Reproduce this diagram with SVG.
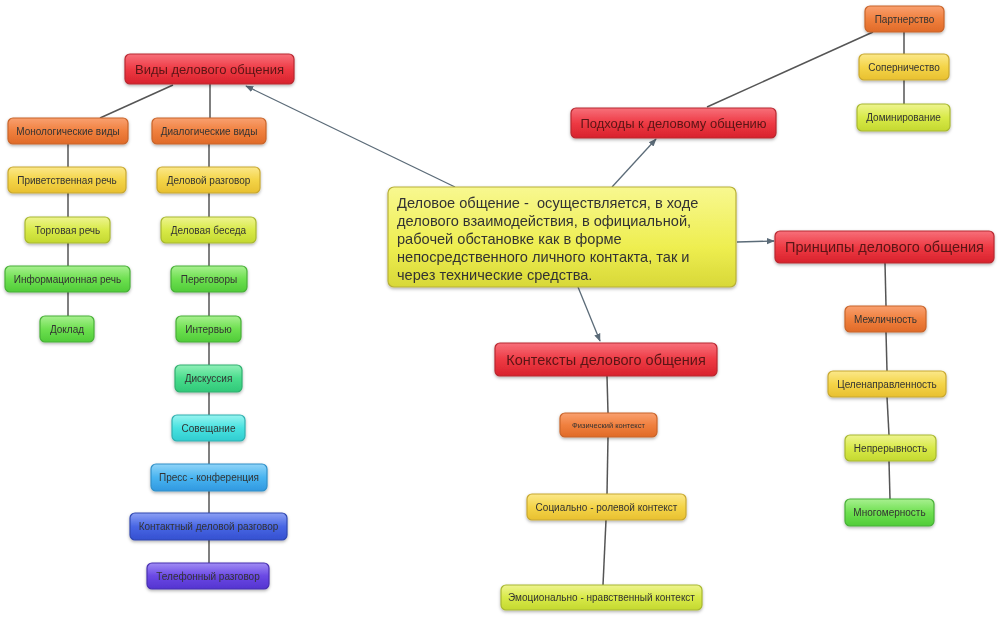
<svg xmlns="http://www.w3.org/2000/svg" width="1000" height="617" viewBox="0 0 1000 617">
<style>
  .n rect{stroke-width:1.2}
  .t{font-family:"Liberation Sans",Arial,sans-serif;font-size:10px;fill:#333;text-anchor:middle;dominant-baseline:central}
  .tr{font-family:"Liberation Sans",Arial,sans-serif;font-size:14px;fill:#5a1616;text-anchor:middle;dominant-baseline:central}
  .tc{font-family:"Liberation Sans",Arial,sans-serif;font-size:14.6px;fill:#333}
  .c line{stroke:#555;stroke-width:1.5;fill:none}
  .c .a{stroke:#5b6b78;stroke-width:1.3}
  .red{fill:url(#gRed);stroke:#b82830}
  .org{fill:url(#gOrg);stroke:#c8642a}
  .yel{fill:url(#gYel);stroke:#c8a830}
  .ylg{fill:url(#gYlg);stroke:#a8b830}
  .grn{fill:url(#gGrn);stroke:#48b038}
  .tgr{fill:url(#gTgr);stroke:#30b070}
  .cyn{fill:url(#gCyn);stroke:#30b0b0}
  .lbl{fill:url(#gLbl);stroke:#3090c8}
  .blu{fill:url(#gBlu);stroke:#3048b0}
  .pur{fill:url(#gPur);stroke:#4830b0}
  .cen{fill:url(#gCen);stroke:#b8b038}
</style>
<defs>
  <linearGradient id="gRed" x1="0" y1="0" x2="0" y2="1"><stop offset="0" stop-color="#f7707a"/><stop offset="0.5" stop-color="#ee3a44"/><stop offset="1" stop-color="#d8222c"/></linearGradient>
  <linearGradient id="gOrg" x1="0" y1="0" x2="0" y2="1"><stop offset="0" stop-color="#f9a070"/><stop offset="0.5" stop-color="#f0803e"/><stop offset="1" stop-color="#e06a28"/></linearGradient>
  <linearGradient id="gYel" x1="0" y1="0" x2="0" y2="1"><stop offset="0" stop-color="#fbe88a"/><stop offset="0.5" stop-color="#f4d448"/><stop offset="1" stop-color="#e8c030"/></linearGradient>
  <linearGradient id="gYlg" x1="0" y1="0" x2="0" y2="1"><stop offset="0" stop-color="#eef490"/><stop offset="0.5" stop-color="#d8ea48"/><stop offset="1" stop-color="#c4d830"/></linearGradient>
  <linearGradient id="gGrn" x1="0" y1="0" x2="0" y2="1"><stop offset="0" stop-color="#a8f090"/><stop offset="0.5" stop-color="#6ee050"/><stop offset="1" stop-color="#50cc38"/></linearGradient>
  <linearGradient id="gTgr" x1="0" y1="0" x2="0" y2="1"><stop offset="0" stop-color="#90f0b8"/><stop offset="0.5" stop-color="#48dc8c"/><stop offset="1" stop-color="#30c878"/></linearGradient>
  <linearGradient id="gCyn" x1="0" y1="0" x2="0" y2="1"><stop offset="0" stop-color="#98f4f0"/><stop offset="0.5" stop-color="#48e2e0"/><stop offset="1" stop-color="#30ccd0"/></linearGradient>
  <linearGradient id="gLbl" x1="0" y1="0" x2="0" y2="1"><stop offset="0" stop-color="#90d4f8"/><stop offset="0.5" stop-color="#48b4f0"/><stop offset="1" stop-color="#3098e0"/></linearGradient>
  <linearGradient id="gBlu" x1="0" y1="0" x2="0" y2="1"><stop offset="0" stop-color="#8ca0f4"/><stop offset="0.5" stop-color="#4866e4"/><stop offset="1" stop-color="#3450d0"/></linearGradient>
  <linearGradient id="gPur" x1="0" y1="0" x2="0" y2="1"><stop offset="0" stop-color="#a08cf4"/><stop offset="0.5" stop-color="#6a48e4"/><stop offset="1" stop-color="#5434d0"/></linearGradient>
  <linearGradient id="gCen" x1="0" y1="0" x2="0" y2="1"><stop offset="0" stop-color="#f8f890"/><stop offset="0.6" stop-color="#eeee50"/><stop offset="1" stop-color="#d8d838"/></linearGradient>
  <filter id="sh" x="-10%" y="-20%" width="120%" height="150%"><feDropShadow dx="0" dy="1.5" stdDeviation="1.5" flood-color="#000" flood-opacity="0.3"/></filter>
  <marker id="arr" viewBox="0 0 10 10" refX="9" refY="5" markerWidth="8" markerHeight="8" orient="auto-start-reverse" markerUnits="userSpaceOnUse"><path d="M0,1 L10,5 L0,9 z" fill="#5b6b78"/></marker>
</defs>
<rect width="1000" height="617" fill="#ffffff"/>

<g id="connectors" class="c">
  <line x1="173" y1="85" x2="100" y2="118"/>
  <line x1="210" y1="84" x2="210" y2="118"/>
  <line x1="68" y1="144" x2="68" y2="316"/>
  <line x1="209" y1="144" x2="209" y2="563"/>
  <line class="a" x1="455" y1="187" x2="246" y2="86" marker-end="url(#arr)"/>
  <line class="a" x1="612" y1="187" x2="656" y2="139" marker-end="url(#arr)"/>
  <line class="a" x1="737" y1="242" x2="774" y2="241" marker-end="url(#arr)"/>
  <line class="a" x1="578" y1="287" x2="600" y2="341" marker-end="url(#arr)"/>
  <line x1="707" y1="107" x2="873" y2="32"/>
  <line x1="904" y1="32" x2="904" y2="104"/>
  <line x1="885" y1="263" x2="886" y2="306"/>
  <line x1="886" y1="332" x2="887" y2="371"/>
  <line x1="887" y1="397" x2="889" y2="435"/>
  <line x1="889" y1="461" x2="890" y2="499"/>
  <line x1="607" y1="376" x2="608" y2="413"/>
  <line x1="608" y1="437" x2="607" y2="494"/>
  <line x1="606" y1="520" x2="603" y2="585"/>
</g>

<g id="center" class="n" filter="url(#sh)">
  <rect class="cen" x="388" y="187" width="348" height="100" rx="6"/>
  <text class="tc" x="397" y="208" xml:space="preserve">Деловое общение -  осуществляется, в ходе</text>
  <text class="tc" x="397" y="226">делового взаимодействия, в официальной,</text>
  <text class="tc" x="397" y="244">рабочей обстановке как в форме</text>
  <text class="tc" x="397" y="262">непосредственного личного контакта, так и</text>
  <text class="tc" x="397" y="280">через технические средства.</text>
</g>

<g id="vidy" class="n" filter="url(#sh)"><rect class="red" x="125" y="54" width="169" height="30" rx="5"/><text class="tr" x="209.5" y="69" style="font-size:13px">Виды делового общения</text></g>
<g id="monolog" class="n" filter="url(#sh)"><rect class="org" x="8" y="118" width="120" height="26" rx="5"/><text class="t" x="68" y="131">Монологические виды</text></g>
<g id="dialog" class="n" filter="url(#sh)"><rect class="org" x="152" y="118" width="114" height="26" rx="5"/><text class="t" x="209" y="131">Диалогические виды</text></g>
<g id="privet" class="n" filter="url(#sh)"><rect class="yel" x="8" y="167" width="118" height="26" rx="5"/><text class="t" x="67" y="180">Приветственная речь</text></g>
<g id="razgovor" class="n" filter="url(#sh)"><rect class="yel" x="157" y="167" width="103" height="26" rx="5"/><text class="t" x="208.5" y="180">Деловой разговор</text></g>
<g id="torg" class="n" filter="url(#sh)"><rect class="ylg" x="25" y="217" width="85" height="26" rx="5"/><text class="t" x="67.5" y="230">Торговая речь</text></g>
<g id="beseda" class="n" filter="url(#sh)"><rect class="ylg" x="161" y="217" width="95" height="26" rx="5"/><text class="t" x="208.5" y="230">Деловая беседа</text></g>
<g id="inform" class="n" filter="url(#sh)"><rect class="grn" x="5" y="266" width="125" height="26" rx="5"/><text class="t" x="67.5" y="279">Информационная речь</text></g>
<g id="peregovory" class="n" filter="url(#sh)"><rect class="grn" x="171" y="266" width="76" height="26" rx="5"/><text class="t" x="209" y="279">Переговоры</text></g>
<g id="doklad" class="n" filter="url(#sh)"><rect class="grn" x="40" y="316" width="54" height="26" rx="5"/><text class="t" x="67" y="329">Доклад</text></g>
<g id="intervyu" class="n" filter="url(#sh)"><rect class="grn" x="176" y="316" width="65" height="26" rx="5"/><text class="t" x="208.5" y="329">Интервью</text></g>
<g id="diskussiya" class="n" filter="url(#sh)"><rect class="tgr" x="175" y="365" width="67" height="27" rx="5"/><text class="t" x="208.5" y="378.5">Дискуссия</text></g>
<g id="soveshchanie" class="n" filter="url(#sh)"><rect class="cyn" x="172" y="415" width="73" height="26" rx="5"/><text class="t" x="208.5" y="428">Совещание</text></g>
<g id="press" class="n" filter="url(#sh)"><rect class="lbl" x="151" y="464" width="116" height="27" rx="5"/><text class="t" x="209" y="477.5">Пресс - конференция</text></g>
<g id="kontakt" class="n" filter="url(#sh)"><rect class="blu" x="130" y="513" width="157" height="27" rx="5"/><text class="t" x="208.5" y="526.5">Контактный деловой разговор</text></g>
<g id="telefon" class="n" filter="url(#sh)"><rect class="pur" x="147" y="563" width="122" height="26" rx="5"/><text class="t" x="208" y="576">Телефонный разговор</text></g>

<g id="podhody" class="n" filter="url(#sh)"><rect class="red" x="571" y="108" width="205" height="30" rx="5"/><text class="tr" x="673.5" y="123" style="font-size:13px">Подходы к деловому общению</text></g>
<g id="partnerstvo" class="n" filter="url(#sh)"><rect class="org" x="865" y="6" width="79" height="26" rx="5"/><text class="t" x="904.5" y="19">Партнерство</text></g>
<g id="sopernichestvo" class="n" filter="url(#sh)"><rect class="yel" x="859" y="54" width="90" height="26" rx="5"/><text class="t" x="904" y="67">Соперничество</text></g>
<g id="dominirovanie" class="n" filter="url(#sh)"><rect class="ylg" x="857" y="104" width="93" height="27" rx="5"/><text class="t" x="903.5" y="117.5">Доминирование</text></g>

<g id="principy" class="n" filter="url(#sh)"><rect class="red" x="775" y="231" width="219" height="32" rx="5"/><text class="tr" x="884.5" y="247" style="font-size:14.5px">Принципы делового общения</text></g>
<g id="mezhlichnost" class="n" filter="url(#sh)"><rect class="org" x="845" y="306" width="81" height="26" rx="5"/><text class="t" x="885.5" y="319">Межличность</text></g>
<g id="celenapr" class="n" filter="url(#sh)"><rect class="yel" x="828" y="371" width="118" height="26" rx="5"/><text class="t" x="887" y="384">Целенаправленность</text></g>
<g id="nepreryvnost" class="n" filter="url(#sh)"><rect class="ylg" x="845" y="435" width="91" height="26" rx="5"/><text class="t" x="890.5" y="448">Непрерывность</text></g>
<g id="mnogomernost" class="n" filter="url(#sh)"><rect class="grn" x="845" y="499" width="89" height="27" rx="5"/><text class="t" x="889.5" y="512.5">Многомерность</text></g>

<g id="konteksty" class="n" filter="url(#sh)"><rect class="red" x="495" y="343" width="222" height="33" rx="5"/><text class="tr" x="606" y="359.5" style="font-size:14.5px">Контексты делового общения</text></g>
<g id="fizich" class="n" filter="url(#sh)"><rect class="org" x="560" y="413" width="97" height="24" rx="5"/><text class="t" x="608.5" y="425" style="font-size:7.5px">Физический контекст</text></g>
<g id="socialno" class="n" filter="url(#sh)"><rect class="yel" x="527" y="494" width="159" height="26" rx="5"/><text class="t" x="606.5" y="507">Социально - ролевой контекст</text></g>
<g id="emocionalno" class="n" filter="url(#sh)"><rect class="ylg" x="501" y="585" width="201" height="25" rx="5"/><text class="t" x="601.5" y="597.5">Эмоционально - нравственный контекст</text></g>
</svg>
